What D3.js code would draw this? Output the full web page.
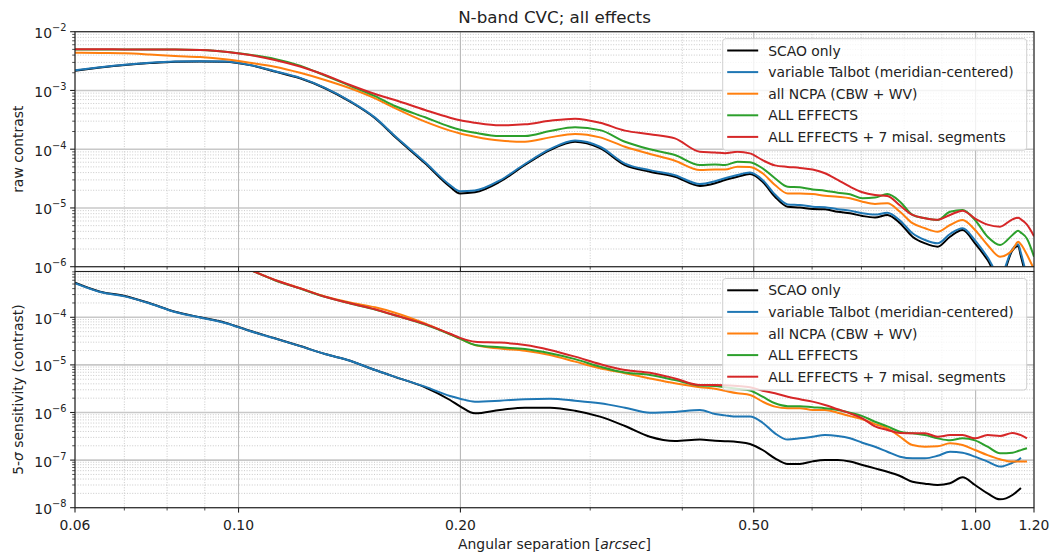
<!DOCTYPE html>
<html>
<head>
<meta charset="utf-8">
<script src="https://cdn.jsdelivr.net/npm/d3@7"></script>
<style>
  html, body { margin: 0; padding: 0; background: #fff; }
  svg { display: block; font-family: "DejaVu Sans", sans-serif; }
</style>
</head>
<body>
<div id="chart"></div>
<script>
// angular separation grid [arcsec]
const sep = [
  0.0600, 0.0649, 0.0701, 0.0758, 0.0820, 0.0887, 0.0959, 0.1036,
  0.1120, 0.1212, 0.1310, 0.1417, 0.1532, 0.1630, 0.1791, 0.1936,
  0.1998, 0.2093, 0.2263, 0.2447, 0.2646, 0.2861, 0.3093, 0.3344,
  0.3615, 0.3909, 0.4227, 0.4431, 0.4570, 0.4753, 0.4941, 0.5140,
  0.5343, 0.5560, 0.5777, 0.6010, 0.6246, 0.6500, 0.6754, 0.7020,
  0.7302, 0.7590, 0.7896, 0.8210, 0.8538, 0.8880, 0.9231, 0.9600,
  0.9981, 1.0380, 1.0792, 1.1220, 1.1420, 1.1520, 1.1740, 1.2000
];

// top panel: raw contrast
const rawScao = [
  2.17e-3, 2.45e-3, 2.71e-3, 2.92e-3, 3.08e-3, 3.12e-3, 3.08e-3, 2.70e-3,
  2.10e-3, 1.61e-3, 1.09e-3, 6.44e-4, 3.36e-4, 1.63e-4, 5.75e-5, 2.30e-5,
  1.77e-5, 1.85e-5, 2.80e-5, 5.38e-5, 9.68e-5, 1.34e-4, 1.04e-4, 5.38e-5,
  4.14e-5, 3.40e-5, 2.37e-5, 2.63e-5, 2.99e-5, 3.40e-5, 3.78e-5, 2.80e-5,
  1.55e-5, 1.05e-5, 1.02e-5, 9.6e-6, 9.5e-6, 8.6e-6, 8.1e-6, 7.3e-6,
  6.9e-6, 7.6e-6, 5.5e-6, 3.24e-6, 2.50e-6, 2.19e-6, 3.24e-6, 4.22e-6,
  2.50e-6, 1.30e-6, 6.0e-7, 1.9e-6, 2.25e-6, 1.5e-6, 6.0e-7, 3.0e-7
];
const rawTalbot = [
  2.20e-3, 2.48e-3, 2.74e-3, 2.95e-3, 3.10e-3, 3.15e-3, 3.10e-3, 2.72e-3,
  2.13e-3, 1.64e-3, 1.11e-3, 6.60e-4, 3.45e-4, 1.68e-4, 6.0e-5, 2.45e-5,
  1.92e-5, 1.98e-5, 2.95e-5, 5.6e-5, 1.0e-4, 1.4e-4, 1.1e-4, 5.7e-5,
  4.4e-5, 3.6e-5, 2.55e-5, 2.85e-5, 3.2e-5, 3.65e-5, 4.0e-5, 3.0e-5,
  1.7e-5, 1.15e-5, 1.12e-5, 1.05e-5, 1.03e-5, 9.5e-6, 9.0e-6, 8.1e-6,
  7.7e-6, 8.3e-6, 6.1e-6, 3.7e-6, 2.85e-6, 2.5e-6, 3.6e-6, 4.5e-6,
  2.8e-6, 1.45e-6, 7.0e-7, 2.0e-6, 2.4e-6, 1.7e-6, 7.0e-7, 3.5e-7
];
const rawNcpa = [
  4.40e-3, 4.35e-3, 4.30e-3, 4.10e-3, 3.86e-3, 3.70e-3, 3.39e-3, 2.97e-3,
  2.54e-3, 2.00e-3, 1.51e-3, 1.09e-3, 7.34e-4, 5.0e-4, 2.94e-4, 2.07e-4,
  1.85e-4, 1.63e-4, 1.40e-4, 1.34e-4, 1.59e-4, 1.82e-4, 1.59e-4, 1.10e-4,
  8.28e-5, 6.37e-5, 4.43e-5, 4.5e-5, 4.5e-5, 5.04e-5, 5.0e-5, 3.89e-5,
  2.46e-5, 1.77e-5, 1.77e-5, 1.72e-5, 1.62e-5, 1.55e-5, 1.46e-5, 1.28e-5,
  1.17e-5, 1.2e-5, 8.6e-6, 5.5e-6, 4.51e-6, 3.94e-6, 5.13e-6, 6.24e-6,
  4.22e-6, 2.34e-6, 1.48e-6, 1.92e-6, 2.67e-6, 2.4e-6, 1.6e-6, 9.0e-7
];
const rawAll = [
  5.0e-3, 5.0e-3, 5.0e-3, 5.0e-3, 5.0e-3, 4.88e-3, 4.57e-3, 4.05e-3,
  3.45e-3, 2.65e-3, 1.80e-3, 1.20e-3, 8.0e-4, 5.43e-4, 3.49e-4, 2.41e-4,
  2.15e-4, 1.91e-4, 1.68e-4, 1.68e-4, 2.04e-4, 2.36e-4, 2.11e-4, 1.34e-4,
  9.96e-5, 7.96e-5, 5.38e-5, 5.5e-5, 5.4e-5, 6.12e-5, 6.0e-5, 4.73e-5,
  3.20e-5, 2.30e-5, 2.25e-5, 2.07e-5, 1.97e-5, 1.82e-5, 1.71e-5, 1.46e-5,
  1.5e-5, 1.72e-5, 1.28e-5, 7.6e-6, 6.67e-6, 6.24e-6, 8.6e-6, 9.2e-6,
  6.24e-6, 3.24e-6, 2.34e-6, 3.46e-6, 4.1e-6, 3.8e-6, 3.0e-6, 1.48e-6
];
const rawSeg = [
  5.01e-3, 5.02e-3, 5.0e-3, 5.0e-3, 5.0e-3, 4.88e-3, 4.57e-3, 4.01e-3,
  3.30e-3, 2.55e-3, 1.83e-3, 1.24e-3, 8.7e-4, 6.87e-4, 4.65e-4, 3.44e-4,
  3.1e-4, 2.82e-4, 2.55e-4, 2.65e-4, 3.05e-4, 3.31e-4, 2.82e-4, 2.07e-4,
  1.80e-4, 1.53e-4, 9.06e-5, 8.8e-5, 8.51e-5, 9.06e-5, 8.5e-5, 6.5e-5,
  5.3e-5, 5.0e-5, 4.8e-5, 4.5e-5, 3.9e-5, 3.0e-5, 2.3e-5, 1.85e-5,
  1.66e-5, 1.6e-5, 1.1e-5, 7.6e-6, 6.7e-6, 6.3e-6, 7.6e-6, 9.0e-6,
  6.6e-6, 5.2e-6, 4.8e-6, 6.4e-6, 6.8e-6, 6.4e-6, 5.2e-6, 3.3e-6
];

// bottom panel: 5-sigma sensitivity
const sensScao = [
  5.33e-4, 3.45e-4, 2.80e-4, 1.97e-4, 1.31e-4, 1.0e-4, 7.7e-5, 5.2e-5,
  3.62e-5, 2.49e-5, 1.69e-5, 1.22e-5, 7.8e-6, 5.6e-6, 3.38e-6, 1.83e-6,
  1.35e-6, 9.6e-7, 1.13e-6, 1.26e-6, 1.26e-6, 1.09e-6, 8.2e-7, 5.2e-7,
  3.1e-7, 2.52e-7, 2.7e-7, 2.56e-7, 2.5e-7, 2.4e-7, 2.18e-7, 1.63e-7,
  1.09e-7, 8.3e-8, 8.3e-8, 9.4e-8, 1.0e-7, 1.0e-7, 9.3e-8, 7.9e-8,
  6.7e-8, 5.7e-8, 4.64e-8, 3.5e-8, 3.2e-8, 3.0e-8, 3.25e-8, 4.35e-8,
  3.0e-8, 2.0e-8, 1.5e-8, 1.85e-8, 2.3e-8, 2.6e-8, null, null
];
const sensTalbot = [
  5.2e-4, 3.4e-4, 2.75e-4, 1.95e-4, 1.29e-4, 9.9e-5, 7.6e-5, 5.15e-5,
  3.6e-5, 2.48e-5, 1.69e-5, 1.22e-5, 7.8e-6, 5.6e-6, 3.5e-6, 2.22e-6,
  1.95e-6, 1.69e-6, 1.77e-6, 1.9e-6, 1.94e-6, 1.77e-6, 1.56e-6, 1.26e-6,
  9.9e-7, 1.03e-6, 1.13e-6, 9.3e-7, 8.7e-7, 8.2e-7, 8.2e-7, 6.1e-7,
  3.65e-7, 2.7e-7, 2.87e-7, 3.1e-7, 3.35e-7, 3.2e-7, 2.87e-7, 2.32e-7,
  1.91e-7, 1.5e-7, 1.18e-7, 1.09e-7, 1.09e-7, 1.23e-7, 1.5e-7, 1.43e-7,
  1.18e-7, 9.3e-8, 7.3e-8, 8.8e-8, 1.0e-7, 1.12e-7, null, null
];
const sensNcpa = [
  null, null, null, null, null, null, null, 1.0e-3,
  6.1e-4, 4.1e-4, 2.75e-4, 2.05e-4, 1.62e-4, 1.25e-4, 7.4e-5, 4.4e-5,
  3.55e-5, 2.6e-5, 2.2e-5, 1.98e-5, 1.62e-5, 1.17e-5, 8.5e-6, 6.7e-6,
  5.2e-6, 4.1e-6, 3.4e-6, 3.15e-6, 2.85e-6, 2.53e-6, 2.34e-6, 1.69e-6,
  1.33e-6, 1.23e-6, 1.23e-6, 1.13e-6, 1.13e-6, 9.9e-7, 8.4e-7, 7.2e-7,
  5.7e-7, 4.66e-7, 3.1e-7, 2.07e-7, 1.91e-7, 1.95e-7, 2.25e-7, 2.07e-7,
  1.63e-7, 1.27e-7, 1.04e-7, 9.3e-8, 9.3e-8, 9.3e-8, 9.3e-8, null
];
const sensAll = [
  null, null, null, null, null, null, null, 1.0e-3,
  6.0e-4, 4.0e-4, 2.68e-4, 1.95e-4, 1.45e-4, 1.1e-4, 7.0e-5, 4.4e-5,
  3.55e-5, 2.62e-5, 2.34e-5, 2.15e-5, 1.75e-5, 1.32e-5, 9.2e-6, 6.9e-6,
  6.15e-6, 4.8e-6, 3.7e-6, 3.6e-6, 3.4e-6, 3.15e-6, 2.9e-6, 2.15e-6,
  1.56e-6, 1.36e-6, 1.36e-6, 1.29e-6, 1.23e-6, 1.13e-6, 9.9e-7, 8.4e-7,
  6.4e-7, 5.1e-7, 3.95e-7, 3.65e-7, 3.35e-7, 2.87e-7, 2.6e-7, 2.87e-7,
  2.6e-7, 1.91e-7, 1.39e-7, 1.43e-7, 1.55e-7, 1.62e-7, 1.77e-7, null
];
const sensSeg = [
  null, null, null, null, null, null, null, 1.0e-3,
  6.08e-4, 4.06e-4, 2.71e-4, 1.97e-4, 1.47e-4, 1.1e-4, 7.2e-5, 4.5e-5,
  3.7e-5, 3.07e-5, 2.94e-5, 2.62e-5, 2.06e-5, 1.49e-5, 1.04e-5, 7.8e-6,
  6.86e-6, 5.2e-6, 3.78e-6, 3.8e-6, 3.75e-6, 3.6e-6, 3.4e-6, 2.87e-6,
  2.53e-6, 2.15e-6, 1.9e-6, 1.69e-6, 1.44e-6, 1.17e-6, 9.6e-7, 7.55e-7,
  5.1e-7, 4.3e-7, 3.7e-7, 3.65e-7, 3.65e-7, 3.1e-7, 3.35e-7, 3.35e-7,
  2.87e-7, 3.35e-7, 3.2e-7, 3.7e-7, 3.5e-7, 3.35e-7, 2.87e-7, null
];

const seriesLabels = [
  "SCAO only",
  "variable Talbot (meridian-centered)",
  "all NCPA (CBW + WV)",
  "ALL EFFECTS",
  "ALL EFFECTS + 7 misal. segments"
];
const seriesColors = ["#000000", "#1f77b4", "#ff7f0e", "#2ca02c", "#d62728"];

const xTickValues = [0.06, 0.1, 0.2, 0.5, 1.0, 1.2];
const xTickLabels = ["0.06", "0.10", "0.20", "0.50", "1.00", "1.20"];
const xMinorValues = [0.07, 0.08, 0.09, 0.3, 0.4, 0.6, 0.7, 0.8, 0.9];

const W = 1050, H = 556;
const left = 75, right = 1034;

const svg = d3.select("#chart").append("svg")
  .attr("width", W)
  .attr("height", H);

const x = d3.scaleLog().domain([0.06, 1.2]).range([left, right]);

const panels = [
  {
    id: "raw", top: 31.7, bottom: 266.7, domain: [1e-6, 1e-2],
    series: [rawScao, rawTalbot, rawNcpa, rawAll, rawSeg],
    ylabel: [{t: "raw contrast"}]
  },
  {
    id: "sens", top: 271.5, bottom: 507.7, domain: [1e-8, 9.16e-4],
    series: [sensScao, sensTalbot, sensNcpa, sensAll, sensSeg],
    ylabel: [{t: "5-"}, {t: "σ", italic: true}, {t: " sensitivity (contrast)"}]
  }
];

const fs = 13.9;

panels.forEach(function(p) {
  const y = d3.scaleLog().domain(p.domain).range([p.bottom, p.top]);
  const g = svg.append("g");

  // decade and minor y values inside the domain
  const lo = Math.floor(Math.log10(p.domain[0])), hi = Math.ceil(Math.log10(p.domain[1]));
  const yMajor = [], yMinor = [];
  for (let e = lo; e <= hi; e++) {
    const v = Math.pow(10, e);
    if (v >= p.domain[0] * 0.999 && v <= p.domain[1] * 1.001) yMajor.push(v);
    for (let k = 2; k <= 9; k++) {
      const m = k * v;
      if (m > p.domain[0] && m < p.domain[1]) yMinor.push(m);
    }
  }

  // minor grid (dotted)
  g.selectAll(".ymin").data(yMinor).enter().append("line")
    .attr("x1", left).attr("x2", right)
    .attr("y1", d => y(d)).attr("y2", d => y(d))
    .attr("stroke", "#c4c4c4").attr("stroke-width", 0.9)
    .attr("stroke-dasharray", "1,1.6");
  g.selectAll(".xmin").data(xMinorValues).enter().append("line")
    .attr("x1", d => x(d)).attr("x2", d => x(d))
    .attr("y1", p.top).attr("y2", p.bottom)
    .attr("stroke", "#c4c4c4").attr("stroke-width", 0.9)
    .attr("stroke-dasharray", "1,1.6");

  // major grid
  g.selectAll(".ymaj").data(yMajor).enter().append("line")
    .attr("x1", left).attr("x2", right)
    .attr("y1", d => y(d)).attr("y2", d => y(d))
    .attr("stroke", "#c8c8c8").attr("stroke-width", 1.6);
  g.selectAll(".xmaj").data(xTickValues).enter().append("line")
    .attr("x1", d => x(d)).attr("x2", d => x(d))
    .attr("y1", p.top).attr("y2", p.bottom)
    .attr("stroke", "#b8b8b8").attr("stroke-width", 1.1);

  // clip for curves
  svg.append("clipPath").attr("id", "clip-" + p.id)
    .append("rect")
    .attr("x", left).attr("y", p.top)
    .attr("width", right - left).attr("height", p.bottom - p.top);

  const line = d3.line()
    .defined(d => d[1] != null)
    .x(d => x(d[0]))
    .y(d => y(d[1]))
    .curve(d3.curveMonotoneX);

  const lines = g.append("g").attr("clip-path", "url(#clip-" + p.id + ")");
  p.series.forEach(function(vals, i) {
    lines.append("path")
      .attr("d", line(sep.map((s, j) => [s, vals[j]])))
      .attr("fill", "none")
      .attr("stroke", seriesColors[i])
      .attr("stroke-width", 2)
      .attr("stroke-linejoin", "round");
  });

  // spines
  g.append("rect")
    .attr("x", left).attr("y", p.top)
    .attr("width", right - left).attr("height", p.bottom - p.top)
    .attr("fill", "none").attr("stroke", "#222").attr("stroke-width", 1.1);

  // y ticks
  g.selectAll(".ytk").data(yMajor).enter().append("line")
    .attr("x1", left - 4.9).attr("x2", left)
    .attr("y1", d => y(d)).attr("y2", d => y(d))
    .attr("stroke", "#222").attr("stroke-width", 1.1);
  g.selectAll(".ytm").data(yMinor).enter().append("line")
    .attr("x1", left - 2.8).attr("x2", left)
    .attr("y1", d => y(d)).attr("y2", d => y(d))
    .attr("stroke", "#222").attr("stroke-width", 0.8);

  // y tick labels 10^n
  yMajor.forEach(function(v) {
    const e = Math.round(Math.log10(v));
    const t = g.append("text")
      .attr("x", left - 8.5)
      .attr("y", y(v) + 6.5)
      .attr("text-anchor", "end")
      .attr("font-size", fs)
      .attr("fill", "#222");
    t.append("tspan").text("10");
    t.append("tspan").attr("dy", -7).attr("font-size", 9.8).text("\u2212" + Math.abs(e));
  });

  // x ticks
  g.selectAll(".xtk").data(xTickValues).enter().append("line")
    .attr("x1", d => x(d)).attr("x2", d => x(d))
    .attr("y1", p.bottom).attr("y2", p.bottom + 4.9)
    .attr("stroke", "#222").attr("stroke-width", 1.1);
  g.selectAll(".xtm").data(xMinorValues).enter().append("line")
    .attr("x1", d => x(d)).attr("x2", d => x(d))
    .attr("y1", p.bottom).attr("y2", p.bottom + 2.8)
    .attr("stroke", "#222").attr("stroke-width", 0.8);

  // y label
  const yl = g.append("text")
    .attr("transform", "translate(18," + ((p.top + p.bottom) / 2) + ") rotate(-90)")
    .attr("text-anchor", "middle")
    .attr("dy", "0.35em")
    .attr("font-size", fs)
    .attr("fill", "#222");
  p.ylabel.forEach(function(part) {
    const ts = yl.append("tspan").text(part.t);
    if (part.italic) ts.attr("font-style", "italic");
  });

  // legend
  const lx = 722.7, ly = p.top + 7, lw = 304, lh = 111.5;
  const lg = g.append("g");
  lg.append("rect")
    .attr("x", lx).attr("y", ly)
    .attr("width", lw).attr("height", lh)
    .attr("rx", 3)
    .attr("fill", "#fff").attr("fill-opacity", 0.8)
    .attr("stroke", "#d0d0d0").attr("stroke-width", 1);
  seriesLabels.forEach(function(lab, i) {
    const ry = ly + 11.8 + i * 21.6;
    lg.append("line")
      .attr("x1", lx + 4.5).attr("x2", lx + 35.5)
      .attr("y1", ry).attr("y2", ry)
      .attr("stroke", seriesColors[i]).attr("stroke-width", 2);
    lg.append("text")
      .attr("x", lx + 45.5).attr("y", ry + 5)
      .attr("font-size", fs)
      .attr("fill", "#222")
      .text(lab);
  });
});

// x tick labels on the lower panel
const bottomY = panels[1].bottom;
svg.selectAll(".xlab").data(xTickValues).enter().append("text")
  .attr("x", d => x(d))
  .attr("y", bottomY + 22.5)
  .attr("text-anchor", "middle")
  .attr("font-size", fs)
  .attr("fill", "#222")
  .text((d, i) => xTickLabels[i]);

// x axis label
const xl = svg.append("text")
  .attr("x", (left + right) / 2)
  .attr("y", 549)
  .attr("text-anchor", "middle")
  .attr("font-size", fs)
  .attr("fill", "#222");
xl.append("tspan").text("Angular separation [");
xl.append("tspan").attr("font-style", "italic").text("arcsec");
xl.append("tspan").text("]");

// title
svg.append("text")
  .attr("x", (left + right) / 2)
  .attr("y", 23)
  .attr("text-anchor", "middle")
  .attr("font-size", 16.7)
  .attr("fill", "#222")
  .text("N-band CVC; all effects");
</script>
</body>
</html>
